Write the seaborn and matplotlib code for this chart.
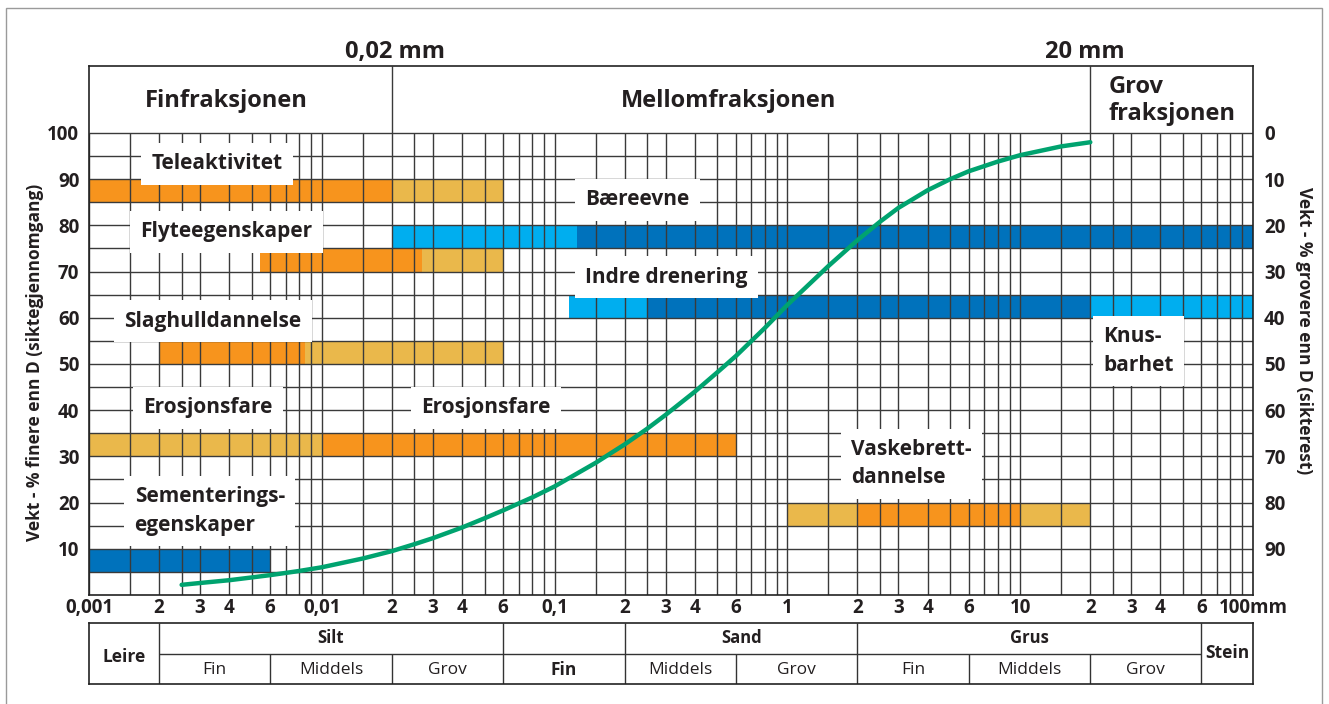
import matplotlib
matplotlib.use('Agg')
import matplotlib.pyplot as plt
import matplotlib.ticker as mticker
from matplotlib.patches import Rectangle
import seaborn as sns
import pandas as pd

# grain size curve (mm, % passing)
curve_d = [0.0025, 0.003, 0.004, 0.005, 0.006, 0.008, 0.01, 0.015, 0.02, 0.025,
           0.03, 0.04, 0.05, 0.06, 0.08, 0.1, 0.15, 0.2, 0.25, 0.3, 0.4, 0.5,
           0.6, 0.8, 1, 1.5, 2, 2.5, 3, 4, 5, 6, 8, 10, 15, 20]
curve_pass = [2.2, 2.6, 3.2, 3.8, 4.3, 5.2, 6.0, 7.9, 9.5, 11.0,
              12.3, 14.6, 16.6, 18.3, 21.1, 23.5, 28.6, 32.6, 36.0, 39.0, 44.0, 48.2,
              51.7, 57.8, 62.8, 71.2, 76.8, 80.8, 83.8, 87.6, 90.0, 91.7, 93.8, 95.2, 97.1, 98.0]

# property bands: name, lower % edge, segments (from, to, level)
prop_names = ['Teleaktivitet', 'Flyteegenskaper', 'Bæreevne', 'Indre drenering',
              'Slaghulldannelse', 'Erosjonsfare', 'Vaskebrett', 'Sementering']
prop_bottom = [85, 70, 75, 60, 50, 30, 15, 5]
prop_segments = [
    [(0.001, 0.02, 'orange'), (0.02, 0.06, 'gold')],
    [(0.0054, 0.027, 'orange'), (0.027, 0.06, 'gold')],
    [(0.02, 0.125, 'lightblue'), (0.125, 100, 'darkblue')],
    [(0.115, 0.25, 'lightblue'), (0.25, 20, 'darkblue'), (20, 100, 'lightblue')],
    [(0.002, 0.0085, 'orange'), (0.0085, 0.06, 'gold')],
    [(0.001, 0.01, 'gold'), (0.01, 0.6, 'orange')],
    [(1, 2, 'gold'), (2, 10, 'orange'), (10, 20, 'gold')],
    [(0.001, 0.006, 'darkblue')],
]

# x axis tick labels
xtick_vals = [0.001, 0.002, 0.003, 0.004, 0.006, 0.01, 0.02, 0.03, 0.04, 0.06,
              0.1, 0.2, 0.3, 0.4, 0.6, 1, 2, 3, 4, 6, 10, 20, 30, 40, 60, 100]
xtick_labels = ['0,001', '2', '3', '4', '6', '0,01', '2', '3', '4', '6',
                '0,1', '2', '3', '4', '6', '1', '2', '3', '4', '6',
                '10', '2', '3', '4', '6', '100mm']

# classification table below the chart
sub_bounds = [0.002, 0.006, 0.02, 0.06, 0.2, 0.6, 2, 6, 20, 60]
sub_names = ['Fin', 'Middels', 'Grov', 'Fin', 'Middels', 'Grov', 'Fin', 'Middels', 'Grov']
main_bounds = [0.002, 0.06, 0.2, 2, 60]
main_names = ['Silt', '', 'Sand', 'Grus']

palette = {'orange': '#F7941D', 'gold': '#EAB84B',
           'lightblue': '#00AEEF', 'darkblue': '#0072BC'}

rows = []
for name, bottom, segs in zip(prop_names, prop_bottom, prop_segments):
    for lo, hi, level in segs:
        rows.append({'prop': name, 'bottom': bottom, 'lo': lo, 'hi': hi, 'level': level})
seg_df = pd.DataFrame(rows)

sns.set_theme(style='white')
plt.rcParams['font.family'] = ['Open Sans', 'DejaVu Sans']
ink = '#231F20'

W, H = 1329, 704
fig = plt.figure(figsize=(W / 100, H / 100), dpi=100)
x0, x1 = 89, 1253
y_top, y_bot = 66, 595
ax = fig.add_axes([x0 / W, 1 - y_bot / H, (x1 - x0) / W, (y_bot - y_top) / H])
ax.set_xscale('log')
ax.set_xlim(0.001, 100)
ax.set_ylim(0, 114.5)

# bars
for _, r in seg_df.iterrows():
    ax.barh(r['bottom'] + 2.5, r['hi'] - r['lo'], left=r['lo'], height=5,
            color=palette[r['level']], linewidth=0, zorder=1)

# grid
grid_x = []
for k in range(-3, 2):
    for m in [1, 1.5, 2, 2.5, 3, 4, 5, 6, 7, 8, 9]:
        grid_x.append(m * 10.0 ** k)
grid_col = '#3a3a3a'
ax.vlines(grid_x, 0, 100, color=grid_col, lw=1, zorder=2)
ax.hlines(list(range(5, 101, 5)), 0.001, 100, color=grid_col, lw=1, zorder=2)
ax.vlines([0.02, 20], 100, 114.5, color=grid_col, lw=1, zorder=2)
for s in ax.spines.values():
    s.set_color('#222222')
    s.set_linewidth(1.2)

# curve
sns.lineplot(x=curve_d, y=curve_pass, ax=ax, color='#00A36F', lw=3.2,
             zorder=6, sort=True)

# axes ticks
ax.xaxis.set_minor_locator(mticker.NullLocator())
ax.set_xticks(xtick_vals)
ax.set_xticklabels(xtick_labels, fontsize=13.5, fontweight='bold', color=ink)
ax.set_yticks(range(10, 101, 10))
ax.set_yticklabels([str(v) for v in range(10, 101, 10)], fontsize=13.5,
                   fontweight='bold', color=ink)
ax.tick_params(axis='x', length=0, pad=2)
ax.tick_params(axis='y', length=0, pad=7)
ax.set_xlabel('')
ax.set_ylabel('Vekt - % finere enn D (siktegjennomgang)', fontsize=12.5,
              fontweight='bold', color=ink)
ax.yaxis.set_label_coords(-0.039, 0.44)

sec = ax.secondary_yaxis('right', functions=(lambda v: 100 - v, lambda v: 100 - v))
sec.set_yticks(range(0, 91, 10))
sec.set_yticklabels([str(v) for v in range(0, 91, 10)], fontsize=13.5,
                    fontweight='bold', color=ink)
sec.tick_params(length=0, pad=8)
sec.spines['right'].set_visible(False)
sec.set_ylabel('Vekt - % grovere enn D (sikterest)', fontsize=12.5, fontweight='bold',
               color=ink, rotation=-90, labelpad=20)

# header
hdr = dict(fontsize=17, fontweight='bold', color=ink, va='center')
ax.text(0.0039, 107, 'Finfraksjonen', ha='center', **hdr)
ax.text(0.56, 107, 'Mellomfraksjonen', ha='center', **hdr)
ax.text(24.0, 107, 'Grov\nfraksjonen', ha='left', linespacing=1.2, **hdr)
ax.text(0.0206, 117.6, '0,02 mm', ha='center', clip_on=False, **hdr)
ax.text(19, 117.6, '20 mm', ha='center', clip_on=False, **hdr)

# band labels
box = dict(facecolor='white', edgecolor='none', boxstyle='square,pad=0.5')
lab = dict(fontsize=15, fontweight='bold', color=ink, va='center',
           bbox=box, zorder=4, linespacing=1.45)
ax.text(0.00354, 93.3, 'Teleaktivitet', ha='center', **lab)
ax.text(0.0039, 78.6, 'Flyteegenskaper', ha='center', **lab)
ax.text(0.227, 85.5, 'Bæreevne', ha='center', **lab)
ax.text(0.302, 68.8, 'Indre drenering', ha='center', **lab)
ax.text(0.0034, 59.3, 'Slaghulldannelse', ha='center', **lab)
ax.text(0.00324, 40.5, 'Erosjonsfare', ha='center', **lab)
ax.text(0.0506, 40.5, 'Erosjonsfare', ha='center', **lab)
ax.text(1.88, 28.4, 'Vaskebrett-\ndannelse', ha='left', **lab)
ax.text(22.7, 52.8, 'Knus-\nbarhet', ha='left', **lab)
ax.text(0.00157, 18.2, 'Sementerings-\negenskaper', ha='left', **lab)

# table
tx = fig.add_axes([x0 / W, 1 - 684 / H, (x1 - x0) / W, (684 - 623) / H])
tx.set_xscale('log')
tx.set_xlim(0.001, 100)
tx.set_ylim(0, 2)
tx.set_xticks([])
tx.set_yticks([])
tx.xaxis.set_minor_locator(mticker.NullLocator())
for s in tx.spines.values():
    s.set_color('#222222')
    s.set_linewidth(1.2)
tcol = '#333333'
tx.vlines(main_bounds, 0, 2, color=tcol, lw=1)
tx.vlines([b for b in sub_bounds if b not in main_bounds], 0, 1, color=tcol, lw=1)
tx.hlines(1, sub_bounds[0], sub_bounds[-1], color=tcol, lw=1)
for i, name in enumerate(main_names):
    xc = (main_bounds[i] * main_bounds[i + 1]) ** 0.5
    tx.text(xc, 1.5, name, ha='center', va='center', fontsize=12, fontweight='bold',
            color=ink)
for i, name in enumerate(sub_names):
    xc = (sub_bounds[i] * sub_bounds[i + 1]) ** 0.5
    w = 'bold' if i == 3 else 'normal'
    tx.text(xc, 0.45, name, ha='center', va='center', fontsize=12.5, fontweight=w,
            color=ink)
tx.text((0.001 * 0.002) ** 0.5, 0.9, 'Leire', ha='center', va='center', fontsize=12.5,
        fontweight='bold', color=ink)
tx.text((60 * 100) ** 0.5, 1.0, 'Stein', ha='center', va='center', fontsize=12.5,
        fontweight='bold', color=ink)

# outer frame
fig.add_artist(Rectangle((6 / W, -0.01), (1322 - 6) / W, 1.01 - 8 / H,
                         transform=fig.transFigure, fill=False,
                         edgecolor='#9a9a9a', lw=1))

fig.savefig('out.png', dpi=100, facecolor='white')
